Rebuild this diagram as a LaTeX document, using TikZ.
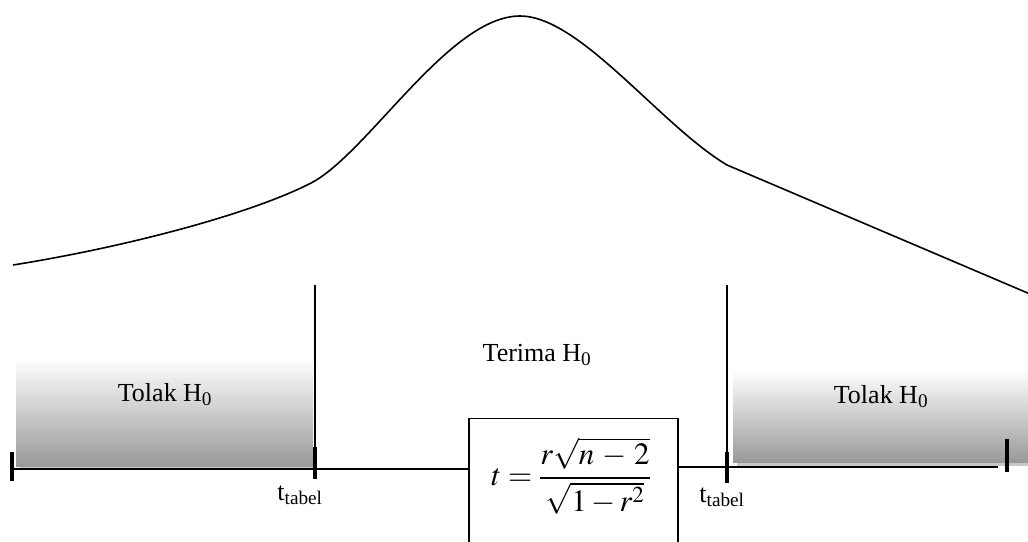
\documentclass[tikz,border=0pt]{standalone}
\usepackage{mathptmx}
\usepackage{fontspec}
\setmainfont{Liberation Serif}
\usetikzlibrary{calc}
\begin{document}
\begin{tikzpicture}[x=1pt,y=-1pt, line width=1.3pt,
  lbl/.style={font=\fontsize{26}{30}\selectfont, inner sep=0pt},
  tickmark/.style={line width=4.5pt},
  gradbox/.style={top color=white, bottom color=black!40, draw=none},
  shadowband/.style={fill=black!22, draw=none}]
\useasboundingbox (0,0) rectangle (1028,541);
\clip (0,0) rectangle (1028,541);

% shaded regions
\fill[shadowband] (20,462) rectangle (313,468);
\shade[gradbox] (16,358) rectangle (313,466);
\fill[shadowband] (737,458) rectangle (1028,466);
\shade[gradbox] (733,370) rectangle (1028,462);

% curve
\draw[line width=1.6pt] (13,265) .. controls (120,248) and (250,215) .. (313,182)
  .. controls (370,150) and (450,16) .. (520,16)
  .. controls (580,16) and (660,125) .. (727,165)
  -- (1030,294);

% coordinates
\coordinate (L0) at (12,469);
\coordinate (T1) at (315,469);
\coordinate (T1top) at (315,285);
\coordinate (T2) at (727,467);
\coordinate (T2top) at (727,285);
\coordinate (R0) at (1007,467);
\coordinate (R0line) at (998,467);

% formula box
\node[draw, minimum width=209pt, minimum height=127pt, anchor=north, inner sep=0pt] (fbox) at (573.5,418) {};
\node[font=\fontsize{31}{36}\selectfont, inner sep=0pt] (formula) at (571,476)
  {$\displaystyle t = \frac{r\sqrt{n\,-\,2}}{\sqrt{1-r^{2}}}$};

% axis
\draw (L0) -- (T1) -- (fbox.west |- T1);
\draw (fbox.east |- T2) -- (T2) -- (R0line);
\draw (T1) -- (T1top);
\draw (T2) -- (T2top);

% ticks
\draw[tickmark] ($(L0)+(0,-17)$) -- ($(L0)+(0,12)$);
\draw[tickmark] ($(T1)+(0,-22)$) -- ($(T1)+(0,10)$);
\draw[tickmark] ($(T2)+(0,-15)$) -- ($(T2)+(0,16)$);
\draw[tickmark] ($(R0)+(0,-28)$) -- ($(R0)+(0,5)$);

% labels
\node[lbl] (terima) at (537,355) {Terima H\textsubscript{0}};
\node[lbl] (tolakL) at (165,395) {Tolak H\textsubscript{0}};
\node[lbl] (tolakR) at (881,397) {Tolak H\textsubscript{0}};
\node[lbl] (ttabL) at (300,495) {t\textsubscript{tabel}};
\node[lbl] (ttabR) at (722,497) {t\textsubscript{tabel}};
\end{tikzpicture}
\end{document}
